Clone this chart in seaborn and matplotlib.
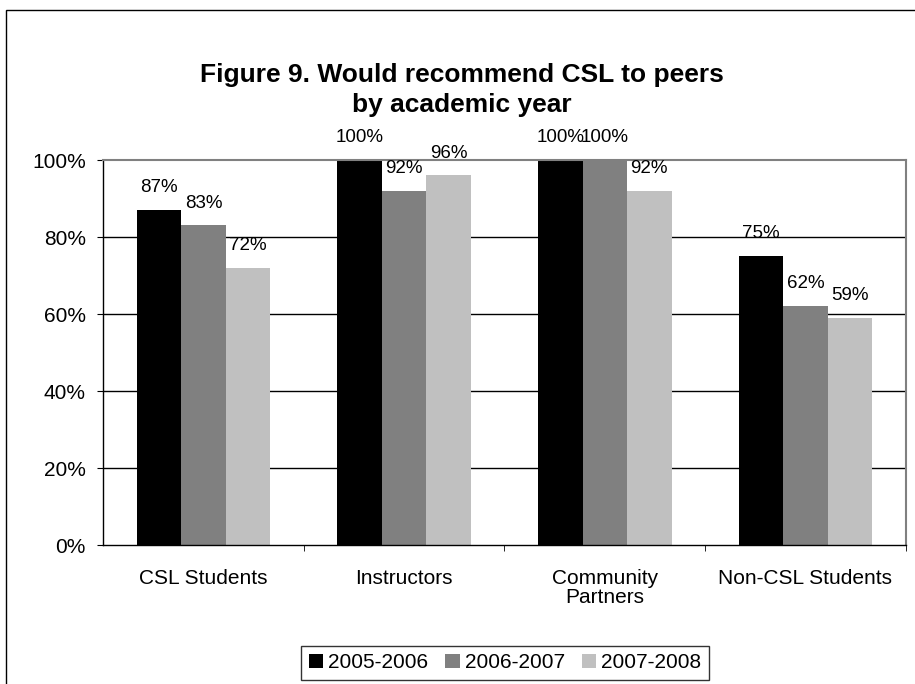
import pandas as pd
import matplotlib.pyplot as plt
import seaborn as sns
from matplotlib.patches import Rectangle
from matplotlib.ticker import FixedLocator

groups = ["CSL Students", "Instructors", "Community\nPartners", "Non-CSL Students"]
years = ["2005-2006", "2006-2007", "2007-2008"]
pct_0506 = [87, 100, 100, 75]
pct_0607 = [83, 92, 100, 62]
pct_0708 = [72, 96, 92, 59]

df = pd.DataFrame({
    "group": groups * 3,
    "year": [years[0]] * 4 + [years[1]] * 4 + [years[2]] * 4,
    "pct": pct_0506 + pct_0607 + pct_0708,
})

sns.set_style("white")
plt.rcParams["font.family"] = ["Liberation Sans", "DejaVu Sans"]
plt.rcParams["text.color"] = "black"
plt.rcParams["xtick.color"] = "black"
plt.rcParams["ytick.color"] = "black"

fig = plt.figure(figsize=(9.15, 6.84), dpi=100)
ax = fig.add_axes([0.1126, 0.2032, 0.8774, 0.5628])

palette = ["#000000", "#808080", "#C0C0C0"]
sns.barplot(data=df, x="group", y="pct", hue="year", palette=palette,
            width=0.665, saturation=1, linewidth=0, ax=ax, legend=True)

ax.set_ylim(0, 100)
ax.set_xlim(-0.5, 3.5)
ax.set_yticks([0, 20, 40, 60, 80, 100])
ax.set_yticklabels([f"{v}%" for v in range(0, 101, 20)], fontsize=15)
ax.set_xticklabels(groups, fontsize=15, linespacing=1.0)
ax.tick_params(axis="x", which="major", length=0, pad=17)
ax.xaxis.set_minor_locator(FixedLocator([0.5, 1.5, 2.5, 3.5]))
ax.tick_params(axis="x", which="minor", length=4.5, direction="out", color="black", bottom=True)
ax.tick_params(axis="y", length=4.5, pad=8, direction="out", color="black", left=True)
ax.set_xlabel("")
ax.set_ylabel("")

for y in [20, 40, 60, 80]:
    ax.axhline(y, color="black", lw=1, zorder=0)

for side in ["left", "bottom"]:
    ax.spines[side].set_color("black")
    ax.spines[side].set_linewidth(1)
for side in ["top", "right"]:
    ax.spines[side].set_color("#808080")
    ax.spines[side].set_linewidth(1.5)

# Data labels
for cont in ax.containers:
    for p in cont:
        h = p.get_height()
        ax.annotate(f"{h:.0f}%", (p.get_x() + p.get_width() / 2, h),
                    xytext=(0, 10), textcoords="offset points",
                    ha="center", va="bottom", fontsize=13.5, annotation_clip=False)

fig.suptitle("Figure 9. Would recommend CSL to peers\nby academic year",
             fontsize=19, fontweight="bold", x=0.505, y=0.908, linespacing=1.3)

leg = ax.legend(loc="center", bbox_to_anchor=(0.552, 0.031), bbox_transform=fig.transFigure,
                ncol=3, fontsize=15, frameon=True, fancybox=False, edgecolor="black",
                handlelength=0.7, handleheight=0.7, handletextpad=0.25, columnspacing=0.8,
                borderpad=0.35)
leg.get_frame().set_linewidth(1)

fig.patches.append(Rectangle((6 / 915, -0.05), 1.2, 1 - 10 / 684 + 0.05,
                             transform=fig.transFigure, fill=False,
                             edgecolor="black", lw=1))

fig.savefig("out.png", dpi=100)
